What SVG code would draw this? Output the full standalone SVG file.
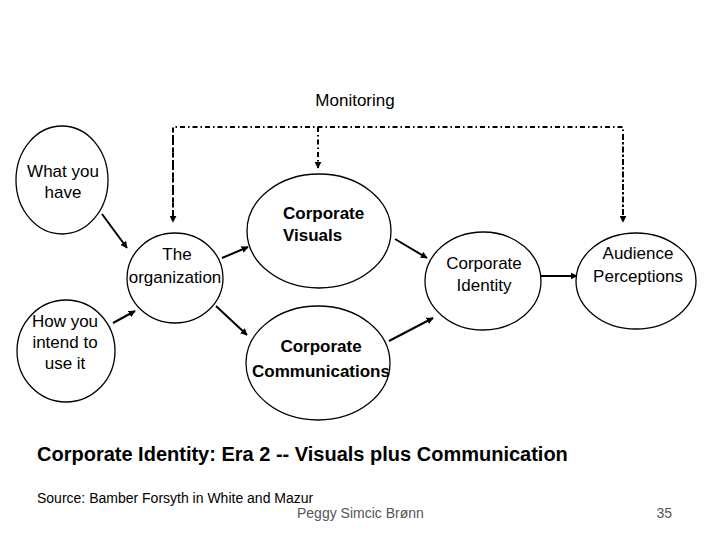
<svg xmlns="http://www.w3.org/2000/svg" width="720" height="540" viewBox="0 0 720 540">
<style>
.n{fill:none;stroke:#000;stroke-width:1.3}
.t{font-family:"Liberation Sans",Arial,sans-serif;font-size:17px;fill:#000;text-anchor:middle}
.b{font-weight:bold}
.c{stroke:#000;stroke-width:2;fill:none;marker-end:url(#ah)}
.m{stroke:#000;stroke-width:2;fill:none;stroke-dasharray:5 3 1.5 3}
.md{stroke:#000;stroke-width:2;fill:none;stroke-dasharray:5 3 1.5 3;marker-end:url(#ah)}
</style>
<defs>
<marker id="ah" viewBox="0 0 10 10" refX="9" refY="5" markerWidth="3.5" markerHeight="3.5" orient="auto" markerUnits="strokeWidth">
<path d="M0,0 L10,5 L0,10 z" fill="#000"/>
</marker>
</defs>
<rect width="720" height="540" fill="#fff"/>
<g id="connectors">
<path class="m" d="M173,220 V127 H623 V220"/>
<line class="md" x1="173" y1="135" x2="173" y2="222"/>
<line class="md" x1="318" y1="127" x2="318" y2="168"/>
<line class="md" x1="623" y1="135" x2="623" y2="222"/>
<line class="c" x1="102" y1="214" x2="127" y2="248"/>
<line class="c" x1="113" y1="323" x2="135" y2="311"/>
<line class="c" x1="222" y1="258" x2="248" y2="247"/>
<line class="c" x1="216" y1="306" x2="247" y2="335"/>
<line class="c" x1="395" y1="239" x2="427" y2="258"/>
<line class="c" x1="389" y1="341" x2="433" y2="318"/>
<line class="c" x1="541" y1="276" x2="577" y2="276"/>
</g>
<g id="monitoring"><text class="t" x="355" y="106">Monitoring</text></g>
<g id="what-you-have">
<ellipse class="n" cx="62" cy="180" rx="46" ry="54"/>
<text class="t" x="63" y="177">What you</text>
<text class="t" x="63" y="198">have</text>
</g>
<g id="how-you-intend">
<ellipse class="n" cx="66" cy="351" rx="49" ry="51"/>
<text class="t" x="65" y="327">How you</text>
<text class="t" x="65" y="348">intend to</text>
<text class="t" x="65" y="369">use it</text>
</g>
<g id="organization">
<ellipse class="n" cx="175" cy="278" rx="48" ry="45"/>
<text class="t" x="177" y="260">The</text>
<text class="t" x="175" y="283">organization</text>
</g>
<g id="corporate-visuals">
<ellipse class="n" cx="319" cy="231" rx="72" ry="57"/>
<text class="t b" x="283" y="219" style="text-anchor:start">Corporate</text>
<text class="t b" x="283" y="241" style="text-anchor:start">Visuals</text>
</g>
<g id="corporate-communications">
<ellipse class="n" cx="318" cy="363" rx="72" ry="57"/>
<text class="t b" x="321" y="352">Corporate</text>
<text class="t b" x="321" y="377">Communications</text>
</g>
<g id="corporate-identity">
<ellipse class="n" cx="483" cy="281" rx="58" ry="49"/>
<text class="t" x="484" y="269">Corporate</text>
<text class="t" x="484" y="291">Identity</text>
</g>
<g id="audience-perceptions">
<ellipse class="n" cx="636" cy="281" rx="60" ry="48"/>
<text class="t" x="638" y="259">Audience</text>
<text class="t" x="638" y="282">Perceptions</text>
</g>
<text x="37" y="461" font-family="Liberation Sans, Arial, sans-serif" font-size="20" font-weight="bold" fill="#000">Corporate Identity: Era 2 -- Visuals plus Communication</text>
<text x="37" y="503" font-family="Liberation Sans, Arial, sans-serif" font-size="14" fill="#000">Source: Bamber Forsyth in White and Mazur</text>
<text x="297" y="518" font-family="Liberation Sans, Arial, sans-serif" font-size="14" fill="#555">Peggy Simcic Brønn</text>
<text x="672" y="518" font-family="Liberation Sans, Arial, sans-serif" font-size="14" fill="#555" text-anchor="end">35</text>
</svg>
